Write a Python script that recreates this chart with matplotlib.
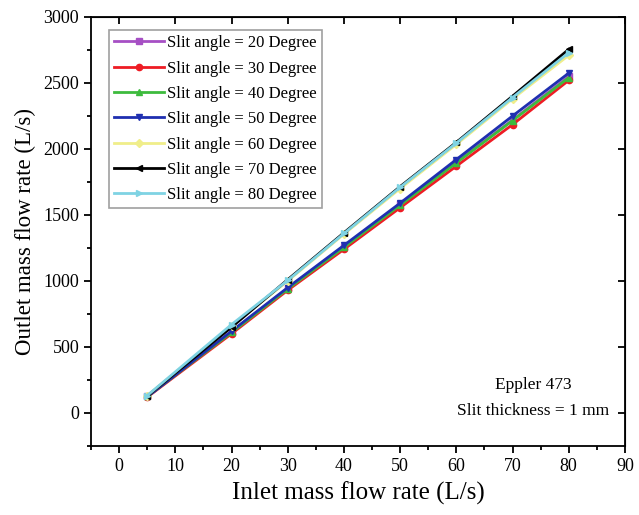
import matplotlib
matplotlib.use("Agg")
import matplotlib.pyplot as plt
from matplotlib.ticker import MultipleLocator

plt.rcParams['font.family'] = ['Liberation Serif', 'DejaVu Serif']

# inlet mass flow rate (L/s)
inlet = [5, 20, 30, 40, 50, 60, 70, 80]

# outlet mass flow rate (L/s) for each slit angle
angle_20 = [125, 615, 945, 1260, 1580, 1900, 2220, 2550]
angle_30 = [120, 600, 930, 1240, 1555, 1870, 2185, 2520]
angle_40 = [125, 610, 940, 1255, 1575, 1895, 2215, 2540]
angle_50 = [122, 620, 950, 1270, 1590, 1920, 2250, 2575]
angle_60 = [130, 660, 1000, 1355, 1700, 2035, 2380, 2710]
angle_70 = [128, 650, 1010, 1365, 1715, 2050, 2400, 2755]
angle_80 = [132, 670, 1005, 1360, 1710, 2045, 2390, 2730]

labels = ["Slit angle = 20 Degree", "Slit angle = 30 Degree", "Slit angle = 40 Degree",
          "Slit angle = 50 Degree", "Slit angle = 60 Degree", "Slit angle = 70 Degree",
          "Slit angle = 80 Degree"]
series = [angle_20, angle_30, angle_40, angle_50, angle_60, angle_70, angle_80]
colors = ['#a64fc4', '#ee1c24', '#3dbb3d', '#1f2fb0', '#f0ee8a', '#000000', '#7fd3e3']
markers = ['s', 'o', '^', 'v', 'D', '<', '>']

fig = plt.figure(figsize=(6.39, 5.15), dpi=100)
ax = fig.add_axes([0.1424, 0.134, 0.8356, 0.833])

for vals, lab, c, m in zip(series, labels, colors, markers):
    ax.plot(inlet, vals, color=c, marker=m, markersize=4.5, linewidth=2, label=lab)

ax.set_xlim(-5, 90)
ax.set_ylim(-250, 3000)
ax.xaxis.set_major_locator(MultipleLocator(10))
ax.xaxis.set_minor_locator(MultipleLocator(5))
ax.yaxis.set_major_locator(MultipleLocator(500))
ax.yaxis.set_minor_locator(MultipleLocator(250))
ax.tick_params(which='both', direction='out', labelsize=13, width=1.3)
ax.tick_params(which='major', length=5)
ax.tick_params(which='minor', length=3)
for s in ax.spines.values():
    s.set_linewidth(1.3)

# inward ticks on the top and right spines
axt = ax.secondary_xaxis('top')
axt.xaxis.set_major_locator(MultipleLocator(10))
axt.tick_params(direction='in', length=5, width=1.3, labeltop=False)
axr = ax.secondary_yaxis('right')
axr.yaxis.set_major_locator(MultipleLocator(500))
axr.tick_params(direction='in', length=5, width=1.3, labelright=False)

ax.set_xlabel("Inlet mass flow rate (L/s)", fontsize=18, labelpad=5)
ax.set_ylabel("Outlet mass flow rate (L/s)", fontsize=16.5, labelpad=5)

leg = ax.legend(loc='upper left', fontsize=12, frameon=True, fancybox=False,
                edgecolor='#888888', handlelength=3.0, handletextpad=0.2,
                labelspacing=0.56, borderpad=0.3, borderaxespad=0,
                bbox_to_anchor=(0.034, 0.969))
leg.get_frame().set_linewidth(1.2)

ax.text(0.828, 0.142, "Eppler 473", transform=ax.transAxes, ha='center', va='center', fontsize=12.5)
ax.text(0.828, 0.082, "Slit thickness = 1 mm", transform=ax.transAxes, ha='center', va='center', fontsize=12.5)

fig.savefig("out.png", dpi=100)
